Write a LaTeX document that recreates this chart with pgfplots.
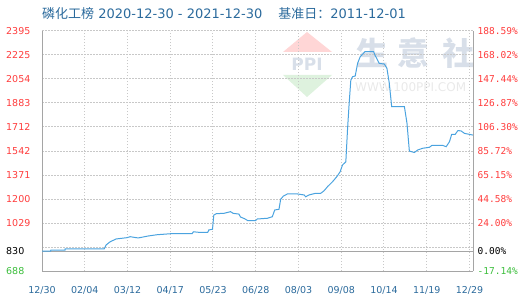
\documentclass[border=0pt]{standalone}
\usepackage{pgfplots}
\pgfplotsset{compat=1.18}
\usepackage{pgfplotstable}
\usepackage{fontspec}
\setmainfont{DejaVu Sans}
\newfontfamily\cjk{Noto Sans CJK SC}
\newfontfamily\mono{DejaVu Sans Mono}
\definecolor{lineblue}{RGB}{75,163,223}
\definecolor{titleblue}{RGB}{43,106,156}
\definecolor{labred}{RGB}{255,60,60}
\definecolor{labgreen}{RGB}{60,190,60}
\definecolor{gridgray}{RGB}{200,200,200}
\definecolor{axgray}{RGB}{165,165,165}
\definecolor{wmblue}{RGB}{216,223,233}
\pgfplotstableread{
d v
0 830
7.3 830
7.4 837
19.4 837
19.5 845
52.4 845
54 873
57.4 896
62.5 916
71.5 925
74.3 932
81 923
89.5 937
96.9 946
108.1 953
126.4 953
127.5 967
133.4 962
139.6 963
140.5 980
143.6 985
144.7 1086
147 1096
153.1 1098
158.8 1110
161 1098
165.8 1093
167.2 1072
170.6 1060
173.4 1046
179.9 1046
181.3 1058
189.8 1063
194 1074
196 1122
199.6 1127
201 1198
203.3 1221
206.7 1236
215.1 1236
220.7 1229
222.1 1216
224.9 1229
230.6 1241
234.8 1241
237.6 1259
240.5 1288
244.7 1323
248.3 1359
251.1 1394
253.1 1442
255.9 1465
257.3 1691
258.7 1881
260.1 2046
261.6 2070
263.8 2075
265.8 2165
268 2212
272 2248
279.3 2248
280.4 2224
284 2165
288.3 2160
290.5 2130
292.5 2023
294.5 1858
305.2 1858
307.4 1739
309.4 1541
313.6 1531
316.5 1549
320.7 1561
326.3 1568
328.3 1581
337.6 1581
340.4 1572
343.2 1608
345 1659
348 1660
350.3 1687
353 1684
355.8 1667
362.9 1655
}\datatab
\begin{document}
\begin{tikzpicture}
\useasboundingbox (-42bp,-31bp) rectangle (480bp,271bp);
% watermark
\fill[red!16!white] (241bp,219bp) -- (290bp,219bp) -- (265bp,239bp) -- cycle;
\fill[green!60!black!13!white] (241bp,196bp) -- (290bp,196bp) -- (265bp,174bp) -- cycle;
\node[text=wmblue, font=\fontsize{17bp}{17bp}\selectfont\bfseries] at (265bp,207bp) {PPI};
\node[text=wmblue, font=\cjk\bfseries\fontsize{32bp}{32bp}\selectfont] at (330bp,218bp) {生};
\node[text=wmblue, font=\cjk\bfseries\fontsize{32bp}{32bp}\selectfont] at (371bp,218bp) {意};
\node[text=wmblue, font=\cjk\bfseries\fontsize{32bp}{32bp}\selectfont] at (416bp,218bp) {社};
\node[text=gray!17!white, font=\fontsize{12bp}{12bp}\selectfont, anchor=west, inner sep=0pt] at (313bp,184bp) {WWW.100PPI.COM};
\begin{axis}[
  at={(0,0)}, anchor=south west,
  scale only axis, width=431bp, height=240bp,
  xmin=0, xmax=363, ymin=688, ymax=2395,
  axis x line*=bottom, axis y line*=left,
  axis line style={axgray, line width=1bp},
  xtick={0,36,72,108,144,180,216,252,288,324,360},
  xticklabels={12/30,02/04,03/12,04/17,05/23,06/28,08/03,09/08,10/14,11/19,12/29},
  ytick={688,858.7,1029.4,1200.1,1370.8,1541.5,1712.2,1882.9,2053.6,2224.3,2395},
  yticklabels={\textcolor{labgreen}{688},,1029,1200,1371,1542,1712,1883,2054,2225,2395},
  extra y ticks={830},
  extra y tick labels={\textcolor{black}{830}},
  extra y tick style={grid=major, major grid style={solid, axgray, line width=1bp}},
  major tick length=0pt,
  grid=major,
  major grid style={dash pattern=on 1.5bp off 1.5bp, gridgray, line width=1bp},
  xticklabel style={font=\fontsize{9.5bp}{11bp}\selectfont, text=titleblue, anchor=base, inner sep=0pt, yshift=-22bp},
  yticklabel style={font=\fontsize{9.5bp}{11bp}\selectfont, text=labred, anchor=base west, inner sep=0pt, xshift=-36bp, yshift=-3.5bp},
  clip=false,
]
\addplot[lineblue, line width=1bp] table[x=d, y=v] {\datatab};
\end{axis}
\begin{axis}[
  at={(0,0)}, anchor=south west,
  scale only axis, width=431bp, height=240bp,
  xmin=0, xmax=363, ymin=688, ymax=2395,
  axis x line=none, axis y line*=right,
  axis line style={axgray, line width=1bp},
  xtick=\empty,
  ytick={688,830,1029.4,1200.1,1370.8,1541.5,1712.2,1882.9,2053.6,2224.3,2395},
  yticklabels={\textcolor{labgreen}{-17.14\%},\textcolor{black}{0.00\%},24.00\%,44.58\%,65.15\%,85.72\%,106.30\%,126.87\%,147.44\%,168.02\%,188.59\%},
  major tick length=0pt,
  yticklabel style={font=\mono\fontsize{9.5bp}{11bp}\selectfont, text=labred, anchor=base west, inner sep=0pt, xshift=4.5bp, yshift=-3.5bp},
]
\end{axis}
\node[anchor=base west, inner sep=0pt, text=titleblue, font=\fontsize{13bp}{15bp}\selectfont] at (0bp,252bp) {{\cjk 磷化工榜} 2020-12-30 - 2021-12-30\hspace{16bp}{\cjk 基准日：}2011-12-01};
\end{tikzpicture}
\end{document}
